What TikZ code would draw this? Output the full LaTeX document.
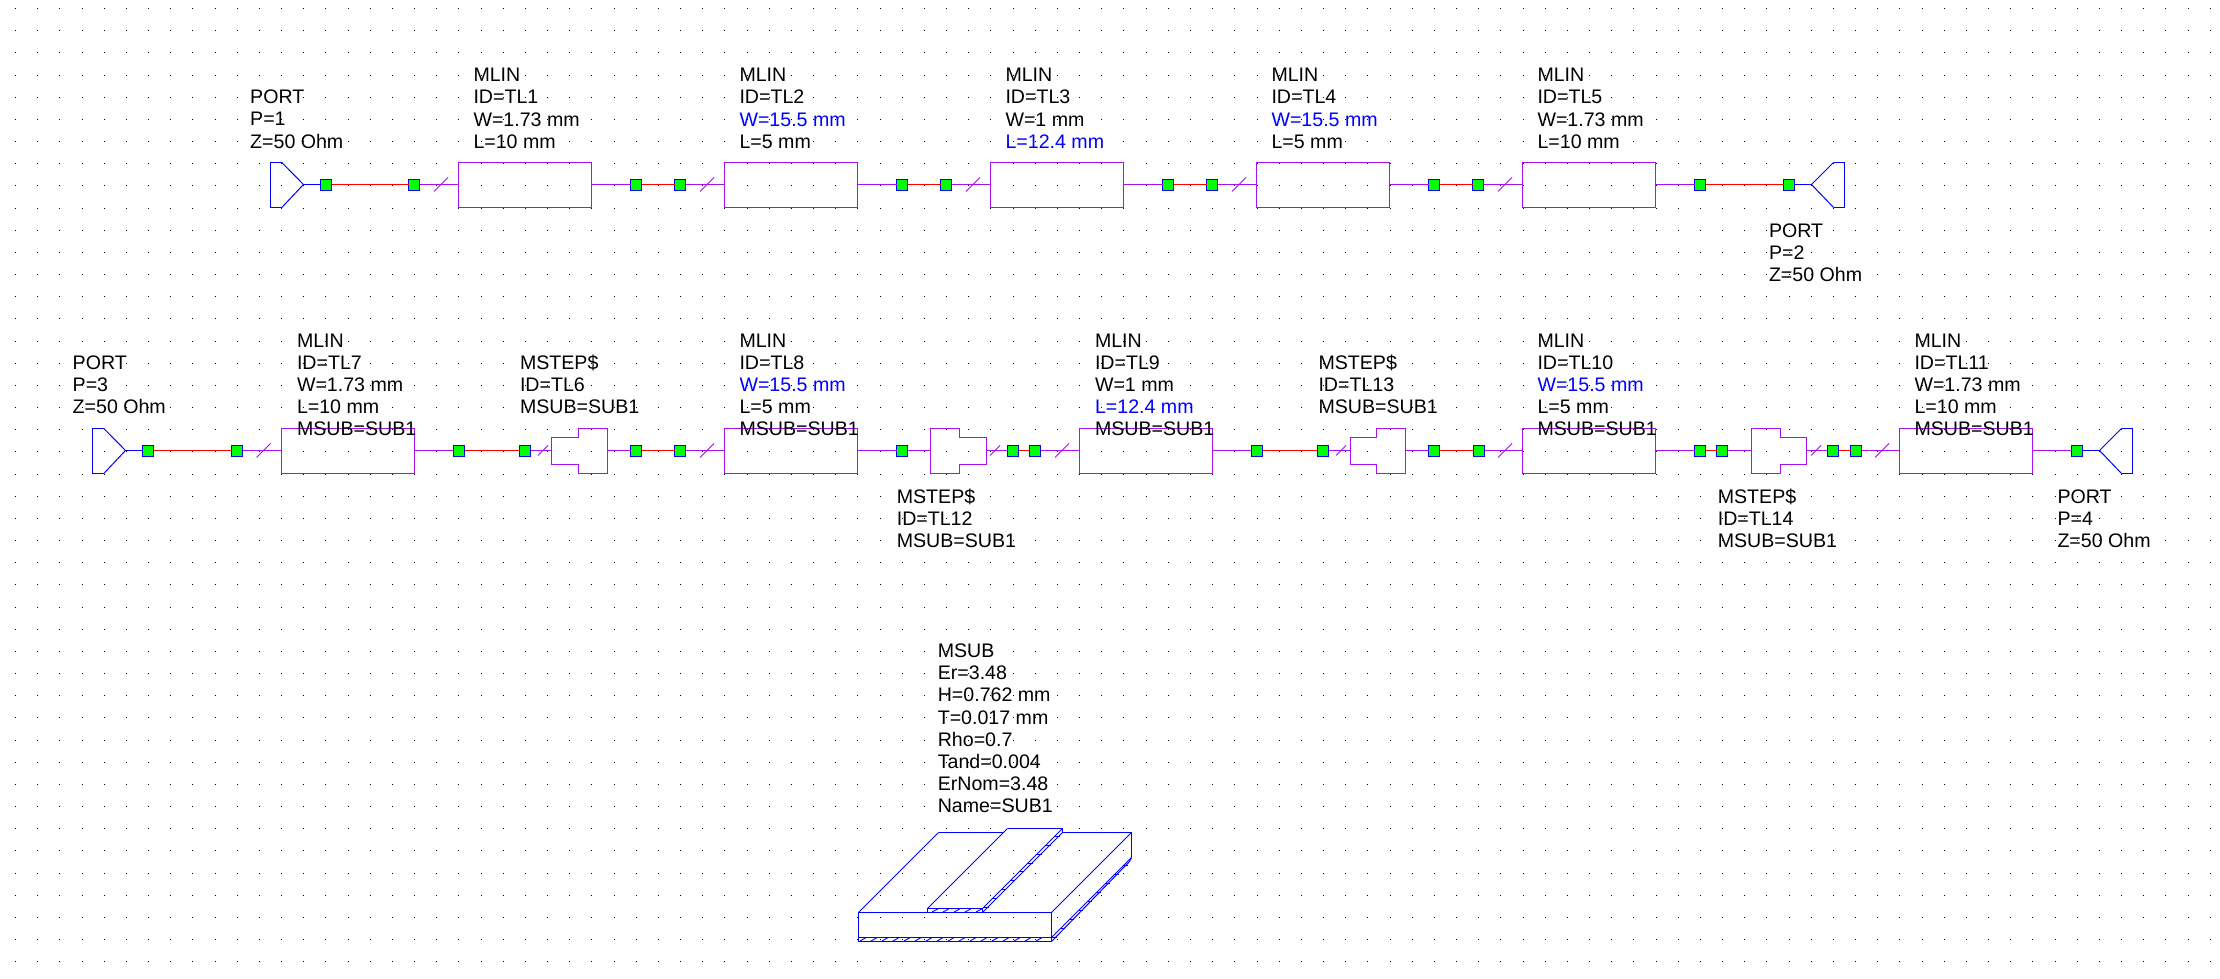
\documentclass[tikz,border=0pt]{standalone}
\usepackage{fontspec}
\setmainfont{Liberation Sans}
\definecolor{wpur}{HTML}{A810F0}
\definecolor{wblu}{HTML}{0000FF}
\definecolor{wred}{HTML}{FF0000}
\definecolor{wgrn}{HTML}{00FF00}
\tikzset{
  sq/.style={draw=wblu,fill=wgrn,line width=1.3pt,minimum size=11pt,inner sep=0pt,outer sep=0pt,rectangle},
  mlin/.style={draw=wpur,line width=1.4pt,minimum width=133pt,minimum height=45pt,inner sep=0pt,outer sep=0pt,rectangle},
  jn/.style={inner sep=0pt,outer sep=0pt,minimum size=0pt,rectangle},
  wr/.style={wred,line width=1.4pt},
  wp/.style={wpur,line width=1.4pt},
  wb/.style={wblu,line width=1.4pt},
  cell/.style={wblu,line width=1pt,line join=miter},
  edge3d/.style={wblu,line width=1.5pt},
  hatch/.style={wblu,line width=0.9pt},
  slashmark/.style={wpur,line width=0.9pt},
  lab/.style={anchor=north west,inner sep=0pt,outer sep=0pt,align=left,font=\fontsize{19.6pt}{22.17pt}\selectfont},
}
\newcommand{\lb}[4]{\node[lab] (#1) at (#2-1.5,#3-16) {\rule{0pt}{16pt}#4};}
\newcommand{\bt}[1]{\textcolor{wblu}{#1}}
\newcommand{\slashB}[2]{\draw[slashmark] (#1-7,#2+6.5) -- (#1+7,#2-7.5);}
\newcommand{\slashS}[2]{\draw[slashmark] (#1-5,#2+4.5) -- (#1+5,#2-5.5);}
% wire from the east side of #2 to the west side of #3, on the pixel row of the wires
\newcommand{\wire}[3]{\draw[#1] ([yshift=0.5pt]#2.east) -- ([yshift=0.5pt]#3.west);}
% port opening to the right: #1 name of tip, #2 left x, #3 mid y
\newcommand{\portR}[3]{\draw[wb] (#2+11.3,#3-22.5) -- (#2,#3-22.5) -- (#2,#3+22.5) -- (#2+11.3,#3+22.5);
  \draw[cell] (#2+11.3,#3-22.5) -- (#2+33,#3-0.5) -- (#2+11.3,#3+22.5);
  \node[jn] (#1) at (#2+33,#3) {};}
% port opening to the left: #2 right x
\newcommand{\portL}[3]{\draw[wb] (#2-11,#3-22.5) -- (#2,#3-22.5) -- (#2,#3+22.5) -- (#2-11,#3+22.5);
  \draw[cell] (#2-11,#3-22.5) -- (#2-33,#3-0.5) -- (#2-11,#3+22.5);
  \node[jn] (#1) at (#2-33,#3) {};}
% step: #1 name, #2 left, #3 notch, #4 right, #5 y, narrow side on the left
\newcommand{\stepNL}[5]{\draw[wp] (#2,#5-13.5) -- (#3,#5-13.5) -- (#3,#5-22.5) -- (#4,#5-22.5) -- (#4,#5+22.5) -- (#3,#5+22.5) -- (#3,#5+13.5) -- (#2,#5+13.5) -- cycle;
  \node[jn] (#1w) at (#2,#5) {}; \node[jn] (#1e) at (#4,#5) {};}
\newcommand{\stepNR}[5]{\draw[wp] (#2,#5-22.5) -- (#3,#5-22.5) -- (#3,#5-13.5) -- (#4,#5-13.5) -- (#4,#5+13.5) -- (#3,#5+13.5) -- (#3,#5+22.5) -- (#2,#5+22.5) -- cycle;
  \node[jn] (#1w) at (#2,#5) {}; \node[jn] (#1e) at (#4,#5) {};}
\begin{document}
\begin{tikzpicture}[x=1pt,y=-1pt]
\useasboundingbox (0,0) rectangle (2220,979);
\fill[white] (0,0) rectangle (2220,979);
% grid dots
\foreach \k in {0,...,99}{
  \pgfmathtruncatemacro{\px}{15.5+22.17*\k}
  \foreach \j in {0,...,43}{
    \pgfmathtruncatemacro{\py}{8.5+22.17*\j}
    \fill[black] (\px,\py) rectangle +(1.2,1.2);
  }
}
\def\ya{185}
\def\yb{451}
% ---- row 1 ----
\portR{p1}{270.5}{\ya}
\portL{p2}{1844.5}{\ya}
\node[mlin] (tl1) at (525,\ya) {};
\node[mlin] (tl2) at (791,\ya) {};
\node[mlin] (tl3) at (1057,\ya) {};
\node[mlin] (tl4) at (1323,\ya) {};
\node[mlin] (tl5) at (1589,\ya) {};
\foreach \n/\x in {a1/326,a2/414,a3/636,a4/680,a5/902,a6/946,a7/1168,a8/1212,a9/1434,a10/1478,a11/1700,a12/1789}
  \node[sq] (\n) at (\x,\ya) {};
\wire{wb}{p1}{a1}
\wire{wb}{a12}{p2}
\wire{wr}{a1}{a2}
\wire{wr}{a3}{a4}
\wire{wr}{a5}{a6}
\wire{wr}{a7}{a8}
\wire{wr}{a9}{a10}
\wire{wr}{a11}{a12}
\wire{wp}{a2}{tl1}
\wire{wp}{tl1}{a3}
\wire{wp}{a4}{tl2}
\wire{wp}{tl2}{a5}
\wire{wp}{a6}{tl3}
\wire{wp}{tl3}{a7}
\wire{wp}{a8}{tl4}
\wire{wp}{tl4}{a9}
\wire{wp}{a10}{tl5}
\wire{wp}{tl5}{a11}
\foreach \x in {441,707,973,1239,1505} {\slashB{\x}{\ya}}
% ---- row 2 ----
\portR{p3}{92.5}{\yb}
\portL{p4}{2132.5}{\yb}
\node[mlin] (tl7) at (348,\yb) {};
\node[mlin] (tl8) at (791,\yb) {};
\node[mlin] (tl9) at (1146,\yb) {};
\node[mlin] (tl10) at (1589,\yb) {};
\node[mlin] (tl11) at (1966,\yb) {};
\stepNL{tl6}{551.5}{578.5}{607.5}{\yb}
\stepNR{tl12}{930.5}{959.5}{986.5}{\yb}
\stepNL{tl13}{1350.5}{1376.5}{1405.5}{\yb}
\stepNR{tl14}{1751.5}{1780.5}{1806.5}{\yb}
\foreach \n/\x in {b1/148,b2/237,b3/459,b4/525,b5/636,b6/680,b7/902,b8/1013,b9/1035,b10/1257,b11/1323,b12/1434,b13/1479,b14/1700,b15/1722,b16/1833,b17/1856,b18/2077}
  \node[sq] (\n) at (\x,\yb) {};
\wire{wb}{p3}{b1}
\wire{wb}{b18}{p4}
\wire{wr}{b1}{b2}
\wire{wr}{b3}{b4}
\wire{wr}{b5}{b6}
\wire{wr}{b8}{b9}
\wire{wr}{b10}{b11}
\wire{wr}{b12}{b13}
\wire{wr}{b14}{b15}
\wire{wr}{b16}{b17}
\wire{wp}{b2}{tl7}
\wire{wp}{tl7}{b3}
\wire{wp}{b4}{tl6w}
\wire{wp}{tl6e}{b5}
\wire{wp}{b6}{tl8}
\wire{wp}{tl8}{b7}
\wire{wp}{b7}{tl12w}
\wire{wp}{tl12e}{b8}
\wire{wp}{b9}{tl9}
\wire{wp}{tl9}{b10}
\wire{wp}{b11}{tl13w}
\wire{wp}{tl13e}{b12}
\wire{wp}{b13}{tl10}
\wire{wp}{tl10}{b14}
\wire{wp}{b15}{tl14w}
\wire{wp}{tl14e}{b16}
\wire{wp}{b17}{tl11}
\wire{wp}{tl11}{b18}
\foreach \x in {263.6,707,1062,1505,1882} {\slashB{\x}{\yb}}
\foreach \x in {543,995,1341,1816} {\slashS{\x}{\yb}}
% ---- substrate ----
\foreach \x in {860,871,...,1045} {\draw[hatch] (\x,941) -- (\x+6,937.6);}
\foreach \x in {932,943,...,976} {\draw[hatch] (\x,912) -- (\x+6,908.8);}
\foreach \s in {0,1,...,8} {\draw[hatch] (983.5+8.9*\s,907.5-8.9*\s) -- (988.5+8.9*\s,907.5-8.9*\s);}
\foreach \s in {0,1,...,8} {\draw[hatch] (1051.5+8.9*\s,937-9*\s) -- (1056.5+8.9*\s,937-9*\s);}
\draw[edge3d] (858.5,912.5) rectangle (1051.5,941.5);
\draw[edge3d] (858.5,937.5) -- (1051.5,937.5);
\draw[cell] (858.5,912.5) -- (938.5,832.5);
\draw[edge3d] (938.5,832.5) -- (1003.5,832.5);
\draw[cell] (927.5,908.5) -- (1007.5,828.5);
\draw[edge3d] (1007.5,828.5) -- (1062.5,828.5) -- (1062.5,832.5) -- (1131.5,832.5) -- (1131.5,857.5);
\draw[cell] (1051.5,912.5) -- (1131.5,832.5);
\draw[edge3d] (927.5,912.5) -- (927.5,908.5) -- (982.5,908.5) -- (982.5,912.5);
\draw[cell] (982.5,908.5) -- (1062.5,828.5);
\draw[cell] (982.5,912.5) -- (1062.5,832.5);
\draw[cell] (1051.5,937.5) -- (1131.5,857.5);
\draw[cell] (1051.5,941.5) -- (1129.5,861.5) -- (1131.5,857.5);
% ---- labels ----
\lb{lp1}{251.7}{103.8}{PORT\\P=1\\Z=50 Ohm}
\lb{lt1}{475}{81.7}{MLIN\\ID=TL1\\W=1.73 mm\\L=10 mm}
\lb{lt2}{741}{81.7}{MLIN\\ID=TL2\\\bt{W=15.5 mm}\\L=5 mm}
\lb{lt3}{1007}{81.7}{MLIN\\ID=TL3\\W=1 mm\\\bt{L=12.4 mm}}
\lb{lt4}{1273}{81.7}{MLIN\\ID=TL4\\\bt{W=15.5 mm}\\L=5 mm}
\lb{lt5}{1539}{81.7}{MLIN\\ID=TL5\\W=1.73 mm\\L=10 mm}
\lb{lp2}{1770.5}{237.4}{PORT\\P=2\\Z=50 Ohm}
\lb{lp3}{74.2}{369.3}{PORT\\P=3\\Z=50 Ohm}
\lb{lt7}{298.5}{347.3}{MLIN\\ID=TL7\\W=1.73 mm\\L=10 mm\\MSUB=SUB1}
\lb{lt6}{521.5}{369.3}{MSTEP\$\\ID=TL6\\MSUB=SUB1}
\lb{lt8}{741}{347.3}{MLIN\\ID=TL8\\\bt{W=15.5 mm}\\L=5 mm\\MSUB=SUB1}
\lb{lt12}{898.3}{503}{MSTEP\$\\ID=TL12\\MSUB=SUB1}
\lb{lt9}{1096.5}{347.3}{MLIN\\ID=TL9\\W=1 mm\\\bt{L=12.4 mm}\\MSUB=SUB1}
\lb{lt13}{1320}{369.3}{MSTEP\$\\ID=TL13\\MSUB=SUB1}
\lb{lt10}{1539}{347.3}{MLIN\\ID=TL10\\\bt{W=15.5 mm}\\L=5 mm\\MSUB=SUB1}
\lb{lt14}{1719.3}{503}{MSTEP\$\\ID=TL14\\MSUB=SUB1}
\lb{lt11}{1916}{347.3}{MLIN\\ID=TL11\\W=1.73 mm\\L=10 mm\\MSUB=SUB1}
\lb{lp4}{2059}{503}{PORT\\P=4\\Z=50 Ohm}
\lb{lsub}{939.3}{657.5}{MSUB\\Er=3.48\\H=0.762 mm\\T=0.017 mm\\Rho=0.7\\Tand=0.004\\ErNom=3.48\\Name=SUB1}
\end{tikzpicture}
\end{document}
